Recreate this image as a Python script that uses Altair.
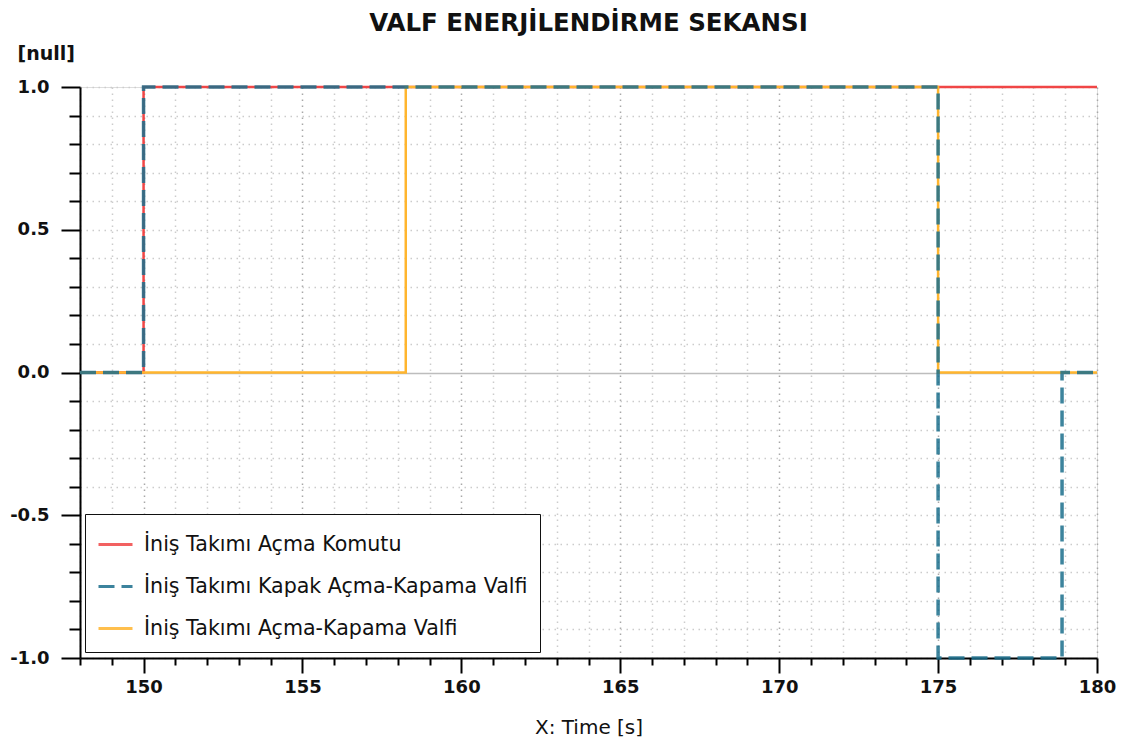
import altair as alt
import pandas as pd

# Series names (legend order)
SERIES = [
    "İniş Takımı Açma Komutu",
    "İniş Takımı Kapak Açma-Kapama Valfi",
    "İniş Takımı Açma-Kapama Valfi",
]
COLORS = ["#f04646", "#1b6e8c", "#ffb52e"]

# Step signals: time breakpoints [s] and the value held from each breakpoint on
CMD_T = [148.0, 150.0, 180.0]
CMD_V = [0, 1, 1]

COVER_T = [148.0, 150.0, 175.0, 178.9, 180.0]
COVER_V = [0, 1, -1, 0, 0]

GEAR_T = [148.0, 158.25, 175.0, 180.0]
GEAR_V = [0, 1, 0, 0]

# Axis tick positions (minor + major)
X_TICKS = [148, 149, 150, 151, 152, 153, 154, 155, 156, 157, 158, 159, 160,
           161, 162, 163, 164, 165, 166, 167, 168, 169, 170, 171, 172, 173,
           174, 175, 176, 177, 178, 179, 180]
Y_TICKS = [-1.0, -0.9, -0.8, -0.7, -0.6, -0.5, -0.4, -0.3, -0.2, -0.1, 0.0,
           0.1, 0.2, 0.3, 0.4, 0.5, 0.6, 0.7, 0.8, 0.9, 1.0]

frames = []
for name, t, v in zip(SERIES, [CMD_T, COVER_T, GEAR_T], [CMD_V, COVER_V, GEAR_V]):
    frames.append(pd.DataFrame({"t": t, "v": v, "series": name}))
df = pd.concat(frames, ignore_index=True)

FONT = "DejaVu Sans"
X_MAJOR = "datum.value % 5 === 0"
Y_MAJOR = "abs(datum.value * 2 - round(datum.value * 2)) < 1e-6"
Y_SOLID = "abs(datum.value) < 1e-6"

x_axis = alt.Axis(
    values=X_TICKS,
    title="X: Time [s]",
    titleFont=FONT, titleFontSize=20, titleFontWeight="normal", titleColor="#111",
    titleY=75, titleBaseline="alphabetic",
    labelExpr=f"{X_MAJOR} ? datum.label : ''",
    labelFont=FONT, labelFontSize=18, labelFontWeight="bold", labelColor="#111",
    labelPadding=5, labelFlush=False, labelOverlap=False,
    domainColor="#000", domainWidth=2,
    tickColor="#000", tickWidth=2,
    tickSize={"condition": {"test": X_MAJOR, "value": 15}, "value": 7},
    grid=True,
    gridColor={"condition": {"test": X_MAJOR, "value": "#a8a8a8"}, "value": "#cccccc"},
    gridDash=[1.5, 4.5], gridWidth=1.5,
)

y_axis = alt.Axis(
    values=Y_TICKS,
    title="[null]",
    titleAngle=0, titleAlign="left", titleX=-63, titleY=-28,
    titleBaseline="alphabetic",
    titleFont=FONT, titleFontSize=19, titleFontWeight="bold", titleColor="#111",
    format=".1f",
    labelExpr=f"{Y_MAJOR} ? replace(datum.label, '\u2212', '-') : ''",
    labelFont=FONT, labelFontSize=18, labelFontWeight="bold", labelColor="#111",
    labelPadding=12, labelOverlap=False,
    domainColor="#000", domainWidth=2,
    tickColor="#000", tickWidth=2,
    tickSize={"condition": {"test": Y_MAJOR, "value": 19}, "value": 11},
    grid=True,
    gridColor={"condition": {"test": Y_SOLID, "value": "#bdbdbd"},
               "value": "#cccccc"},
    gridDash={"condition": {"test": Y_SOLID, "value": []}, "value": [1.5, 4.5]},
    gridWidth=1.5,
)

legend = alt.Legend(
    title=None,
    orient="none", legendX=5, legendY=427,
    direction="vertical",
    symbolType="stroke", symbolSize=1156, symbolStrokeWidth=3,
    labelFont=FONT, labelFontSize=20.6, labelColor="#111", labelLimit=0,
    labelOffset=10, rowPadding=12, padding=12,
    strokeColor="#111", fillColor="#ffffff",
)

color = alt.Color("series:N", scale=alt.Scale(domain=SERIES, range=COLORS),
                  legend=legend)
dash = alt.StrokeDash("series:N",
                      scale=alt.Scale(domain=SERIES,
                                      range=[[1, 0], [16, 7], [1, 0]]),
                      legend=legend)

base = alt.Chart(df).encode(
    x=alt.X("t:Q", scale=alt.Scale(domain=[148, 180], nice=False, zero=False),
            axis=x_axis),
    y=alt.Y("v:Q", scale=alt.Scale(domain=[-1, 1], nice=False), axis=y_axis),
    color=color,
    strokeDash=dash,
)

red = base.transform_filter(alt.datum.series == SERIES[0]).mark_line(
    interpolate="step-after", strokeWidth=2.5)
orange = base.transform_filter(alt.datum.series == SERIES[2]).mark_line(
    interpolate="step-after", strokeWidth=2.5)
blue = base.transform_filter(alt.datum.series == SERIES[1]).mark_line(
    interpolate="step-after", strokeWidth=3.5, opacity=0.85)

chart = alt.layer(red, orange, blue).properties(
    width=1017, height=571,
    title=alt.Title("VALF ENERJİLENDİRME SEKANSI", font=FONT, fontSize=24.5,
                    fontWeight="bold", color="#111", anchor="middle",
                    frame="group", baseline="alphabetic", offset=12, dy=23),
    autosize=alt.AutoSizeParams(type="none"),
    padding={"left": 80, "top": 87, "right": 26, "bottom": 84},
).configure_view(
    stroke="#c4c4c4", strokeWidth=1.5
).configure_legend(
    strokeWidth=2
).configure(background="white")

chart.save("out.html", embed_options={"renderer": "svg", "actions": False})
